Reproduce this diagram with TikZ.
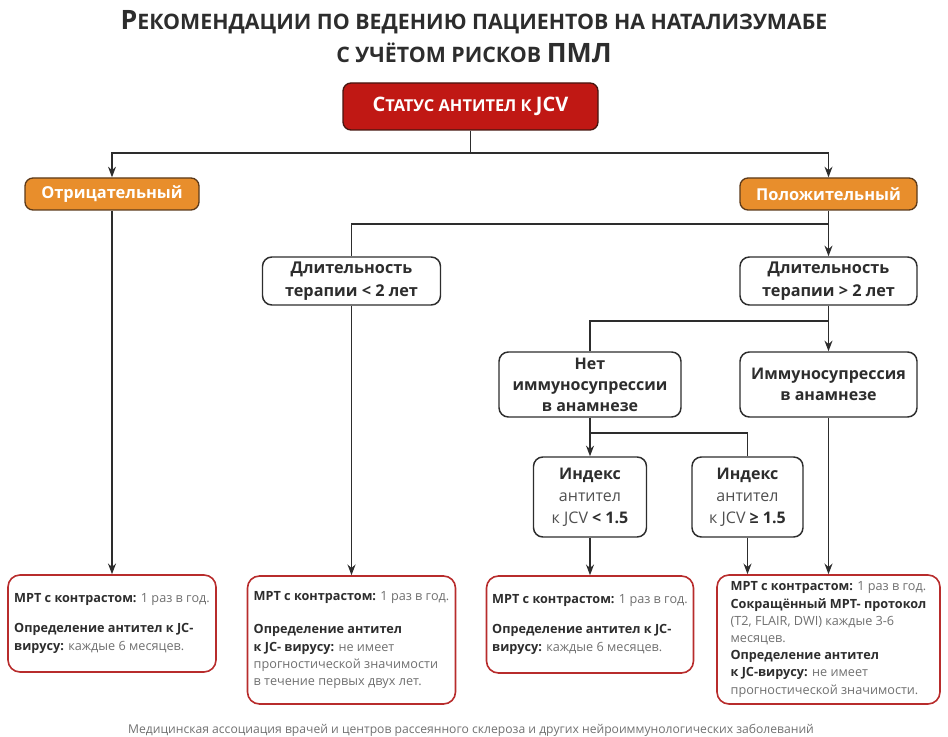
\documentclass[tikz,border=0pt]{standalone}
\usepackage{fontspec}
\setmainfont{Open Sans}
\usetikzlibrary{arrows.meta}

\definecolor{statred}{RGB}{192,24,20}
\definecolor{statedge}{RGB}{70,22,16}
\definecolor{ansorange}{RGB}{232,142,44}
\definecolor{ansedge}{RGB}{92,58,26}
\definecolor{recred}{RGB}{184,44,44}
\definecolor{txtdark}{RGB}{45,45,45}
\definecolor{txtmid}{RGB}{80,80,80}
\definecolor{txtlight}{RGB}{112,112,112}

\newcommand{\ttlbig}{\fontsize{20}{24}\selectfont}
\newcommand{\ttlsmall}{\fontsize{16}{24}\selectfont}
\newcommand{\statbig}{\fontsize{15}{18}\selectfont}
\newcommand{\statsmall}{\fontsize{12.3}{18}\selectfont}
\newcommand{\kw}[1]{{\bfseries\color{txtdark}#1}}

\tikzset{every picture/.style={line width=0.75pt}}
\tikzset{
  statbox/.style={draw=statedge, fill=statred, rounded corners=6pt, line width=1pt,
    text=white, font=\bfseries, minimum width=191.25pt, minimum height=35.25pt},
  ansbox/.style={draw=ansedge, fill=ansorange, rounded corners=6pt, line width=1pt,
    text=white, font=\bfseries\fontsize{12.3}{14}\selectfont, minimum height=24pt},
  stepbox/.style={draw=txtdark, fill=white, rounded corners=7pt, line width=1.1pt,
    align=center, text=txtdark, font=\fontsize{12}{16.5}\selectfont},
  recbox/.style={draw=recred, fill=white, rounded corners=9pt, line width=1.2pt,
    align=left, text=txtlight, font=\fontsize{9.5}{12.9}\selectfont},
  conn/.style={draw=txtdark, line width=1pt},
  arr/.style={conn, -{Stealth[length=8pt,width=6pt]}}
}

\begin{document}
\begin{tikzpicture}[x=0.75pt,y=0.75pt,yscale=-1,xscale=1]
\useasboundingbox (0,0) rectangle (948,737);

% Title
\node[anchor=base, text=txtdark, font=\bfseries] (title1) at (474,30) {\ttlbig Р\ttlsmall ЕКОМЕНДАЦИИ ПО ВЕДЕНИЮ ПАЦИЕНТОВ НА НАТАЛИЗУМАБЕ};
\node[anchor=base, text=txtdark, font=\bfseries] (title2) at (474,63) {\ttlsmall С УЧЁТОМ РИСКОВ \ttlbig ПМЛ};

% Boxes
\node[statbox] (stat) at (470.5,106.5) {\statbig С\statsmall ТАТУС АНТИТЕЛ К \statbig JCV};
\node[ansbox, minimum width=130.5pt] (neg) at (112,194) {Отрицательный};
\node[ansbox, minimum width=132.75pt] (pos) at (828.5,194) {Положительный};

\node[stepbox, minimum width=133.5pt, minimum height=36pt, font=\bfseries\fontsize{12.2}{16.8}\selectfont] (durlt) at (351.5,281) {Длительность\\терапии < 2 лет};
\node[stepbox, minimum width=132.75pt, minimum height=36pt, font=\bfseries\fontsize{12.2}{16.8}\selectfont] (durgt) at (828.5,281) {Длительность\\терапии > 2 лет};
\node[stepbox, minimum width=136.5pt, minimum height=48.75pt, font=\bfseries\fontsize{12}{15.8}\selectfont] (noimm) at (590,384.5) {Нет\\иммуносупрессии\\в анамнезе};
\node[stepbox, minimum width=132.75pt, minimum height=48.75pt, font=\bfseries\fontsize{12}{15.8}\selectfont] (imm) at (828.5,384.5) {Иммуносупрессия\\в анамнезе};
\node[stepbox, text=txtmid, minimum width=84.75pt, minimum height=60pt] (idxlt) at (590,497) {\kw{Индекс}\\антител\\к JCV \kw{< 1.5}};
\node[stepbox, text=txtmid, minimum width=83.25pt, minimum height=60pt] (idxge) at (747.5,497) {\kw{Индекс}\\антител\\к JCV \kw{≥ 1.5}};

\node[recbox, minimum width=156pt, minimum height=72.75pt] (rec1) at (112,623.5) {\kw{МРТ с контрастом:} 1 раз в год.\\[9.5pt]\kw{Определение антител к JC-}\\\kw{вирусу:} каждые 6 месяцев.};
\node[recbox, minimum width=156pt, minimum height=96pt] (rec2) at (351.5,640) {\kw{МРТ с контрастом:} 1 раз в год.\\[12pt]\kw{Определение антител}\\\kw{к JC- вирусу:} не имеет\\прогностической значимости\\в течение первых двух лет.};
\node[recbox, minimum width=155.25pt, minimum height=72.75pt] (rec3) at (590,624.5) {\kw{МРТ с контрастом:} 1 раз в год.\\[9.5pt]\kw{Определение антител к JC-}\\\kw{вирусу:} каждые 6 месяцев.};
\node[recbox, minimum width=167.25pt, minimum height=96.75pt] (rec4) at (828.5,639.5) {\kw{МРТ с контрастом:} 1 раз в год.\\\kw{Сокращённый МРТ- протокол}\\(T2, FLAIR, DWI) каждые 3-6\\месяцев.\\\kw{Определение антител}\\\kw{к JC-вирусу:} не имеет\\прогностической значимости.};

% Footer
\node[anchor=base, text=txtlight, font=\fontsize{9.1}{10}\selectfont] (foot) at (471,733) {Медицинская ассоциация врачей и центров рассеянного склероза и других нейроиммунологических заболеваний};

% Connectors
\coordinate (split1) at (470.5,153);
\coordinate (split2) at (828.5,224);
\coordinate (split3) at (828.5,321);
\coordinate (split4) at (590,433);

\draw[conn] (stat) -- (split1);
\draw[arr] (split1) -| (neg);
\draw[arr] (split1) -| (pos);
\draw[arr] (pos) -- (durgt);
\draw[conn] (split2) -| (durlt);
\draw[arr] (durgt) -- (imm);
\draw[conn] (split3) -| (noimm);
\draw[arr] (noimm) -- (idxlt);
\draw[conn] (split4) -| (idxge);
\draw[arr] (neg) -- (rec1);
\draw[arr] (durlt) -- (rec2);
\draw[arr] (idxlt) -- (rec3);
\draw[arr] (idxge) -- (idxge |- rec4.north);
\draw[arr] (imm) -- (rec4);

\end{tikzpicture}
\end{document}
